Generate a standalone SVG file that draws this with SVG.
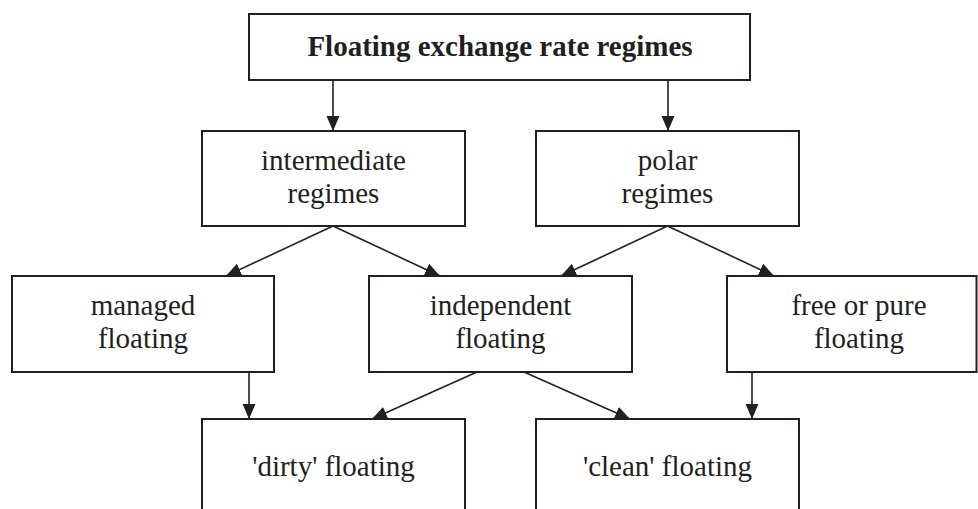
<svg xmlns="http://www.w3.org/2000/svg" width="978" height="509" viewBox="0 0 978 509">
<style>
.box{fill:#fff;stroke:#231f20;stroke-width:2}
.t{font-family:"Liberation Serif","Times New Roman",serif;font-size:29px;fill:#231f20;text-anchor:middle}
.b{font-weight:bold}
.c{stroke:#231f20;stroke-width:1.6;fill:none;marker-end:url(#ah)}
</style>
<defs>
<marker id="ah" markerUnits="userSpaceOnUse" markerWidth="16" markerHeight="14" refX="15" refY="6.5" orient="auto">
<path d="M0,0 L15,6.5 L0,13 Z" fill="#231f20"/>
</marker>
</defs>
<rect width="978" height="509" fill="#fff"/>
<g id="connectors">
<line class="c" x1="333" y1="80" x2="333" y2="131"/>
<line class="c" x1="668" y1="80" x2="668" y2="131"/>
<line class="c" x1="333" y1="226" x2="226" y2="276"/>
<line class="c" x1="333" y1="226" x2="440" y2="276"/>
<line class="c" x1="667.5" y1="226" x2="561" y2="276"/>
<line class="c" x1="667.5" y1="226" x2="774" y2="276"/>
<line class="c" x1="249" y1="372" x2="249" y2="419"/>
<line class="c" x1="752" y1="372" x2="752" y2="419"/>
<line class="c" x1="477" y1="372" x2="372" y2="419"/>
<line class="c" x1="524" y1="372" x2="630" y2="419"/>
</g>
<g id="top">
<rect class="box" x="249" y="14" width="501" height="66"/>
<text class="t b" x="500" y="56">Floating exchange rate regimes</text>
</g>
<g id="intermediate">
<rect class="box" x="202" y="131" width="263" height="95"/>
<text class="t" x="333.5" y="170">intermediate</text>
<text class="t" x="333.5" y="203">regimes</text>
</g>
<g id="polar">
<rect class="box" x="536" y="131" width="263" height="95"/>
<text class="t" x="667.5" y="170">polar</text>
<text class="t" x="667.5" y="203">regimes</text>
</g>
<g id="managed">
<rect class="box" x="12" y="276" width="262" height="96"/>
<text class="t" x="143" y="315">managed</text>
<text class="t" x="143" y="348">floating</text>
</g>
<g id="independent">
<rect class="box" x="369" y="276" width="263" height="96"/>
<text class="t" x="500.5" y="315">independent</text>
<text class="t" x="500.5" y="348">floating</text>
</g>
<g id="free">
<rect class="box" x="727" y="276" width="249.5" height="96"/>
<text class="t" x="859" y="315">free or pure</text>
<text class="t" x="859" y="348">floating</text>
</g>
<g id="dirty">
<rect class="box" x="202" y="419" width="263" height="120"/>
<text class="t" x="333.5" y="476">'dirty' floating</text>
</g>
<g id="clean">
<rect class="box" x="536" y="419" width="263" height="120"/>
<text class="t" x="667.5" y="476">'clean' floating</text>
</g>
</svg>
